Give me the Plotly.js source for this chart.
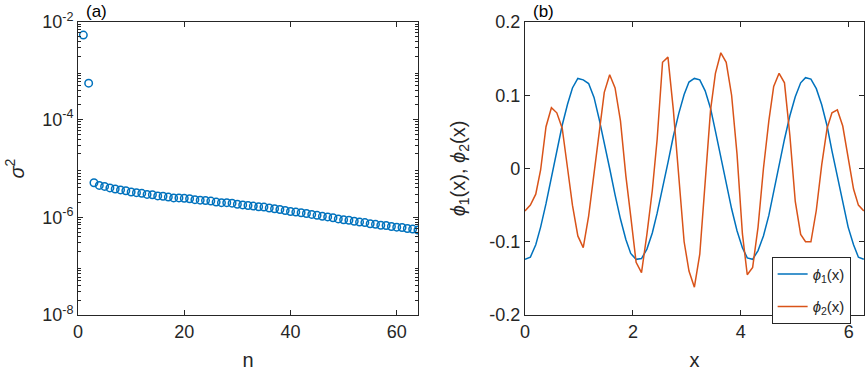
<!DOCTYPE html>
<html>
<head>
<meta charset="utf-8">
<script src="https://cdn.plot.ly/plotly-3.0.1.min.js"></script>
<style>
  html, body { margin: 0; padding: 0; background: #fff; }
  #fig { width: 867px; height: 371px; }
</style>
</head>
<body>
<div id="fig"></div>
<script>
const BLUE = "#0072BD";
const ORANGE = "#D95319";
const AXIS_COLOR = "#262626";
const FONT = "Liberation Sans, Arial, sans-serif";

// (a) singular values squared
const n = [];
for (let i = 1; i <= 64; i++) n.push(i);
const sigma2 = [
    5.4e-3, 5.6e-4, 5.1e-6, 4.5e-6, 4.3e-6, 4.0e-6, 3.8e-6, 3.65e-6,
    3.5e-6, 3.3e-6, 3.2e-6, 3.1e-6, 2.95e-6, 2.9e-6, 2.75e-6, 2.7e-6,
    2.6e-6, 2.5e-6, 2.5e-6, 2.45e-6, 2.4e-6, 2.3e-6, 2.25e-6, 2.2e-6,
    2.15e-6, 2.05e-6, 2.0e-6, 2.0e-6, 1.95e-6, 1.85e-6, 1.8e-6, 1.75e-6,
    1.7e-6, 1.65e-6, 1.62e-6, 1.55e-6, 1.5e-6, 1.45e-6, 1.38e-6, 1.32e-6,
    1.28e-6, 1.24e-6, 1.2e-6, 1.15e-6, 1.1e-6, 1.05e-6, 1.02e-6, 9.8e-7,
    9.3e-7, 8.9e-7, 8.7e-7, 8.3e-7, 8.0e-7, 7.8e-7, 7.4e-7, 7.2e-7,
    6.9e-7, 6.8e-7, 6.5e-7, 6.3e-7, 6.2e-7, 5.9e-7, 5.75e-7, 5.5e-7
];
const logTickVals = [1e-8, 1e-6, 1e-4, 1e-2];
const logTickText = ["10<sup>-8</sup>", "10<sup>-6</sup>", "10<sup>-4</sup>", "10<sup>-2</sup>"];

// minor tick positions for the log axis (2..9 and 10 in every decade)
const logMinorTicks = [];
for (let e = -8; e < -2; e++) {
    for (let m = 2; m <= 10; m++) {
        if (m === 10 && e % 2 !== 0) logMinorTicks.push(m * Math.pow(10, e));
        else if (m < 10) logMinorTicks.push(m * Math.pow(10, e));
    }
}

// (b) modes
const xs = [
    0, 0.10, 0.20, 0.29, 0.39, 0.49, 0.59, 0.69, 0.79, 0.88,
    0.98, 1.08, 1.18, 1.28, 1.37, 1.47, 1.57, 1.67, 1.77, 1.87,
    1.96, 2.06, 2.16, 2.26, 2.36, 2.45, 2.55, 2.65, 2.75, 2.85,
    2.95, 3.04, 3.14, 3.24, 3.34, 3.44, 3.53, 3.63, 3.73, 3.83,
    3.93, 4.03, 4.12, 4.22, 4.32, 4.42, 4.52, 4.61, 4.71, 4.81,
    4.91, 5.01, 5.11, 5.20, 5.30, 5.40, 5.50, 5.60, 5.69, 5.79,
    5.89, 5.99, 6.09, 6.18, 6.28
];
const phi1 = [
    -0.124, -0.121, -0.104, -0.080, -0.048, -0.012, 0.024, 0.059, 0.088, 0.110,
    0.123, 0.121, 0.116, 0.097, 0.069, 0.036, 0.000, -0.036, -0.069, -0.097,
    -0.116, -0.124, -0.123, -0.110, -0.088, -0.061, -0.028, 0.008, 0.044, 0.075,
    0.101, 0.118, 0.123, 0.121, 0.106, 0.082, 0.051, 0.016, -0.020, -0.055,
    -0.085, -0.108, -0.122, -0.124, -0.112, -0.092, -0.064, -0.031, 0.004, 0.040,
    0.072, 0.098, 0.117, 0.124, 0.122, 0.109, 0.087, 0.058, 0.024, -0.012,
    -0.048, -0.080, -0.104, -0.121, -0.124
];
const phi2 = [
    -0.058, -0.050, -0.035, -0.002, 0.057, 0.083, 0.076, 0.055, 0.000, -0.050,
    -0.092, -0.108, -0.065, -0.005, 0.048, 0.104, 0.128, 0.110, 0.065, -0.010,
    -0.065, -0.128, -0.142, -0.090, -0.030, 0.040, 0.145, 0.152, 0.080, -0.005,
    -0.100, -0.140, -0.162, -0.117, -0.015, 0.080, 0.130, 0.158, 0.145, 0.100,
    0.020, -0.089, -0.145, -0.135, -0.080, 0.000, 0.065, 0.112, 0.130, 0.117,
    0.045, -0.045, -0.090, -0.100, -0.100, -0.057, 0.005, 0.055, 0.076, 0.080,
    0.058, 0.016, -0.028, -0.050, -0.058
];
const yTickVals = [-0.2, -0.1, 0, 0.1, 0.2];
const yTickText = ["-0.2", "-0.1", "0", "0.1", "0.2"];

const traces = [
    {
        x: n,
        y: sigma2,
        type: "scatter",
        mode: "markers",
        marker: { symbol: "circle-open", size: 7.5, color: BLUE, line: { width: 1.5, color: BLUE } },
        xaxis: "x",
        yaxis: "y",
        showlegend: false,
    },
    {
        x: xs,
        y: phi1,
        type: "scatter",
        mode: "lines",
        name: "<i>ϕ</i><sub>1</sub>(x)",
        legendgroup: "a",
        line: { color: BLUE, width: 1.5 },
        xaxis: "x2",
        yaxis: "y2",
    },
    {
        x: xs,
        y: phi2,
        type: "scatter",
        mode: "lines",
        name: "<i>ϕ</i><sub>2</sub>(x)",
        legendgroup: "b",
        line: { color: ORANGE, width: 1.5 },
        xaxis: "x2",
        yaxis: "y2",
    },
];

const axisBase = {
    showline: true,
    linecolor: AXIS_COLOR,
    linewidth: 1,
    mirror: "allticks",
    ticks: "inside",
    ticklen: 5,
    tickcolor: AXIS_COLOR,
    showgrid: false,
    zeroline: false,
    automargin: false,
    tickfont: { family: FONT, size: 18, color: AXIS_COLOR },
};

const layout = {
    width: 867,
    height: 371,
    margin: { l: 0, r: 0, t: 0, b: 0 },
    paper_bgcolor: "#fff",
    plot_bgcolor: "#fff",
    font: { family: FONT, color: AXIS_COLOR },
    xaxis: {
        ...axisBase,
        domain: [0.09, 0.4821],
        range: [0, 64],
        tickvals: [0, 20, 40, 60],
        title: { text: "n", font: { family: FONT, size: 20, color: AXIS_COLOR }, standoff: 18 },
    },
    yaxis: {
        ...axisBase,
        domain: [0.1509, 0.9407],
        type: "log",
        range: [-8, -2],
        tickmode: "array",
        tickvals: logTickVals,
        ticktext: logTickText,
        minor: { tickmode: "array", tickvals: logMinorTicks, ticks: "inside", ticklen: 3, tickcolor: AXIS_COLOR, showgrid: false },
        title: { text: "<i>σ</i><sup>2</sup>", font: { family: FONT, size: 20, color: AXIS_COLOR }, standoff: 12 },
    },
    xaxis2: {
        ...axisBase,
        anchor: "y2",
        domain: [0.6055, 0.9965],
        range: [0, 2 * Math.PI],
        tickvals: [0, 2, 4, 6],
        title: { text: "x", font: { family: FONT, size: 20, color: AXIS_COLOR }, standoff: 18 },
    },
    yaxis2: {
        ...axisBase,
        anchor: "x2",
        domain: [0.1509, 0.9407],
        range: [-0.2, 0.2],
        tickvals: yTickVals,
        ticktext: yTickText,
        title: {
            text: "<i>ϕ</i><sub>1</sub>(x), <i>ϕ</i><sub>2</sub>(x)",
            font: { family: FONT, size: 20, color: AXIS_COLOR },
            standoff: 18,
        },
    },
    legend: {
        x: 0.89,
        y: 0.308,
        xanchor: "left",
        yanchor: "top",
        bgcolor: "#fff",
        bordercolor: AXIS_COLOR,
        borderwidth: 1,
        itemwidth: 30,
        tracegroupgap: 10,
        font: { family: FONT, size: 15, color: AXIS_COLOR },
    },
    annotations: [
        {
            text: "(a)", xref: "paper", yref: "paper", x: 0.097, y: 1.0,
            xanchor: "left", yanchor: "top", showarrow: false,
            font: { family: FONT, size: 17, color: "#000" },
        },
        {
            text: "(b)", xref: "paper", yref: "paper", x: 0.612, y: 1.0,
            xanchor: "left", yanchor: "top", showarrow: false,
            font: { family: FONT, size: 17, color: "#000" },
        },
    ],
};

Plotly.newPlot("fig", traces, layout, { displayModeBar: false, staticPlot: true });
</script>
</body>
</html>
